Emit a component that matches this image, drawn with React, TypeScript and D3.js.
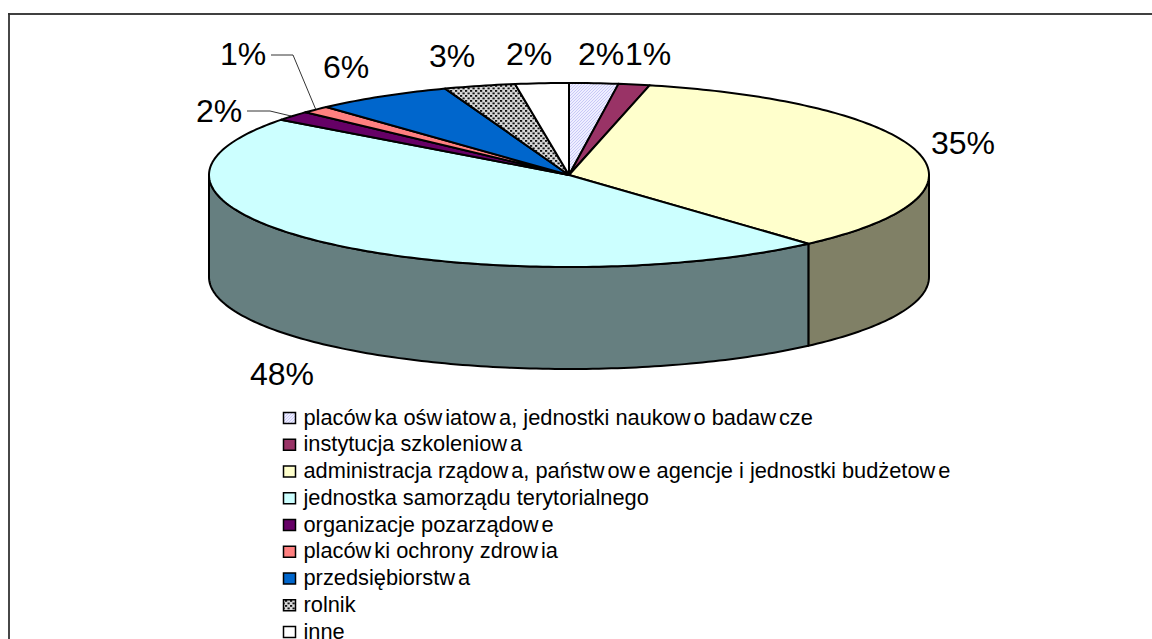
import React from "react";
import * as d3 from "d3";

const categories = [
  "placówka oświatowa, jednostki naukowo badawcze",
  "instytucja szkoleniowa",
  "administracja rządowa, państwowe agencje i jednostki budżetowe",
  "jednostka samorządu terytorialnego",
  "organizacje pozarządowe",
  "placówki ochrony zdrowia",
  "przedsiębiorstwa",
  "rolnik",
  "inne",
];
const shares = [2.2, 1.4, 34.9, 46.9, 1.7, 1.3, 6.2, 3.2, 2.4];
const labels = ["2%", "1%", "35%", "48%", "2%", "1%", "6%", "3%", "2%"];
const topColors = ["url(#hatch)", "#993366", "#FFFFCC", "#CCFFFF", "#660066", "#FF8080", "#0066CC", "url(#dots)", "#FFFFFF"];
const sideColors = ["#7f7f7f", "#4d3333", "#808066", "#667F80", "#330033", "#804040", "#003366", "#808080", "#808080"];
const labelX = [578, 625, 931, 250, 196, 220, 323, 429, 506];
const labelY = [65, 65, 154, 385, 122, 65, 78, 67, 65];

const W = 1152, H = 639;
const cx = 569, cy = 175, rx = 360, ry = 92, depth = 102;

const pt = (a: number, dy = 0): [number, number] => [cx + rx * Math.sin(a), cy - ry * Math.cos(a) + dy];
const line = d3.line();

const arcs = d3.pie<number>().sort(null).value((d) => d)(shares);

function arcPts(a0: number, a1: number, dy = 0) {
  const n = Math.max(2, Math.ceil(((a1 - a0) * 180) / Math.PI));
  return d3.range(n + 1).map((i) => pt(a0 + ((a1 - a0) * i) / n, dy));
}

const legendY = d3.scalePoint<number>().domain(d3.range(categories.length)).range([417, 631]);

/* The reference's renderer leaves a small gap after each "w". */
function spaced(text: string) {
  const parts = text.split(/(?<=w)/);
  return parts.map((p, i) => (
    <tspan key={i} dx={i === 0 ? 0 : 3}>{p}</tspan>
  ));
}

export default function App() {
  const lo = Math.PI / 2, hi = (3 * Math.PI) / 2;
  return (
    <svg width={W} height={H} viewBox={`0 0 ${W} ${H}`}
      style={{ position: "absolute", left: 0, top: 0, display: "block", background: "#fff" }}
      fontFamily="'Liberation Sans', Arial, sans-serif">
      <defs>
        <pattern id="hatch" width="3" height="3" patternUnits="userSpaceOnUse">
          <rect width="3" height="3" fill="#eeeeff" />
          <path d="M0 3L3 0" stroke="#c8c8f6" strokeWidth="1" />
        </pattern>
        <pattern id="dots" width="5" height="5" patternUnits="userSpaceOnUse">
          <rect width="5" height="5" fill="#d8d8d8" />
          <rect x="0" y="0" width="2.2" height="1.8" fill="#111" />
          <rect x="2.5" y="2.5" width="2.2" height="1.8" fill="#111" />
        </pattern>
      </defs>

      {/* frame: only the top and left edges fall inside the picture */}
      <line x1={8} y1={14} x2={W} y2={14} stroke="#000" strokeWidth={1.6} />
      <line x1={9} y1={13} x2={9} y2={H} stroke="#333" strokeWidth={1.8} />

      {/* side wall */}
      {arcs.map((d, i) => {
        const a0 = Math.max(d.startAngle, lo), a1 = Math.min(d.endAngle, hi);
        if (a1 <= a0) return null;
        const top = arcPts(a0, a1);
        const bottom = arcPts(a0, a1, depth).reverse();
        return (
          <path key={i} d={line([...top, ...bottom])! + "Z"} fill={sideColors[i]}
            stroke="#000" strokeWidth={2} strokeLinejoin="round" />
        );
      })}

      {/* top face */}
      {arcs.map((d, i) => (
        <path key={i} d={line([[cx, cy], ...arcPts(d.startAngle, d.endAngle)])! + "Z"}
          fill={topColors[i]} stroke="#000" strokeWidth={2} strokeLinejoin="round" />
      ))}

      {/* leader lines */}
      <polyline points="271,55 293,55 316,110" fill="none" stroke="#000" strokeWidth={0.8} />
      <polyline points="247,111 270,111 291,116" fill="none" stroke="#000" strokeWidth={0.8} />

      {/* value labels */}
      {labels.map((t, i) => (
        <text key={i} x={labelX[i]} y={labelY[i]} fontSize={32} fill="#000">{t}</text>
      ))}

      {/* legend */}
      {categories.map((c, i) => {
        const y = legendY(i)!;
        return (
          <g key={i}>
            <rect x={283.5} y={y - 4.5} width={12} height={11} fill={topColors[i]} stroke="#000" strokeWidth={1.5} />
            <text x={303.5} y={y + 7.5} fontSize={21.8} fill="#000">{spaced(c)}</text>
          </g>
        );
      })}
    </svg>
  );
}
